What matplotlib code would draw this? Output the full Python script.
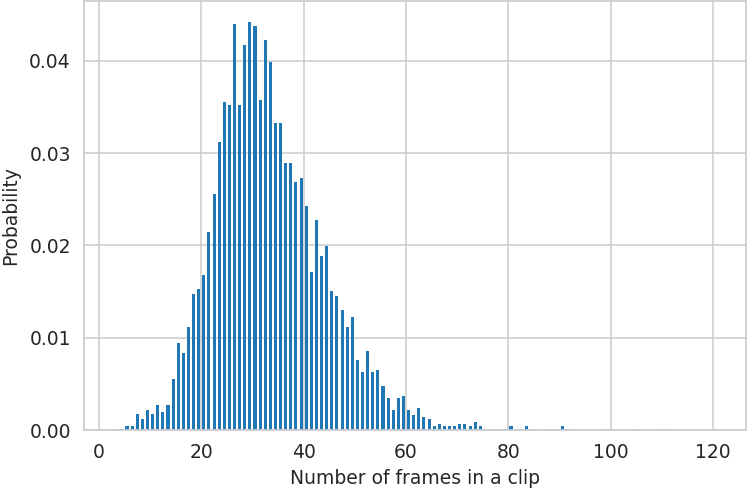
import matplotlib
matplotlib.use("Agg")
import matplotlib.pyplot as plt
import seaborn as sns
import numpy as np

sns.set_theme(style="whitegrid")
plt.rcParams['font.family'] = ['DejaVu Sans']

# histogram bins (left edge of integer bin) and probability values
bin_start = list(range(3, 121))
probability = [
    0.00013, 0.00013, 0.00039, 0.00039, 0.00172, 0.00115, 0.00219,  # 3-9
    0.00169, 0.00270, 0.00194, 0.00270, 0.00552, 0.00939, 0.00837,  # 10-16
    0.01116, 0.01474, 0.01528, 0.01683, 0.02146, 0.02555, 0.03119,  # 17-23
    0.03556, 0.03527, 0.04402, 0.03527, 0.04175, 0.04427, 0.04377,  # 24-30
    0.03581, 0.04226, 0.03994, 0.03325, 0.03325, 0.02892, 0.02892,  # 31-37
    0.02685, 0.02735, 0.02428, 0.01709, 0.02273, 0.01889, 0.01995,  # 38-44
    0.01503, 0.01449, 0.01297, 0.01116, 0.01221, 0.00758, 0.00630,  # 45-51
    0.00861, 0.00630, 0.00655, 0.00473, 0.00343, 0.00216, 0.00343,  # 52-58
    0.00368, 0.00216, 0.00165, 0.00241, 0.00140, 0.00115, 0.00039,  # 59-65
    0.00064, 0.00039, 0.00039, 0.00039, 0.00064, 0.00064, 0.00039,  # 66-72
    0.00089, 0.00039, 0.0, 0.00013, 0.0, 0.00013, 0.00013,          # 73-79
    0.00039, 0.0, 0.0, 0.00039, 0.00013, 0.0, 0.0,                  # 80-86
    0.00013, 0.0, 0.00013, 0.00039, 0.00013, 0.0, 0.0,              # 87-93
    0.0, 0.0, 0.0, 0.0, 0.0, 0.00013, 0.0,                          # 94-100
    0.0, 0.0, 0.0, 0.00013, 0.0, 0.0, 0.0,                          # 101-107
    0.0, 0.0, 0.00013, 0.0, 0.0, 0.0, 0.0,                          # 108-114
    0.0, 0.0, 0.0, 0.0, 0.0, 0.00013,                               # 115-120
]

x_label = "Number of frames in a clip"
y_label = "Probability"

fig = plt.figure(figsize=(7.47, 4.90), dpi=100)
ax = fig.add_axes([84 / 747, (490 - 430) / 490, (746 - 84) / 747, (430 - 1) / 490])

centers = np.array(bin_start) + 0.5
ax.bar(centers, probability, width=0.6, color="#1f77b4", linewidth=0)

ax.set_xlim(-2.9, 126.4)
ax.set_ylim(0, 0.0465)
ax.set_xticks([0, 20, 40, 60, 80, 100, 120])
ax.set_yticks([0.0, 0.01, 0.02, 0.03, 0.04])
ax.set_yticklabels(["0.00", "0.01", "0.02", "0.03", "0.04"])
ax.tick_params(axis="both", labelsize=13.5, colors="#262626")
ax.set_xlabel(x_label, fontsize=13.5, color="#262626", labelpad=5)
ax.set_ylabel(y_label, fontsize=13.5, color="#262626", labelpad=6.5)
ax.grid(True, color="#cccccc", linewidth=1.1)
ax.set_axisbelow(True)
for s in ax.spines.values():
    s.set_color("#cccccc")
    s.set_linewidth(1.25)

fig.savefig("out.png", dpi=100)
